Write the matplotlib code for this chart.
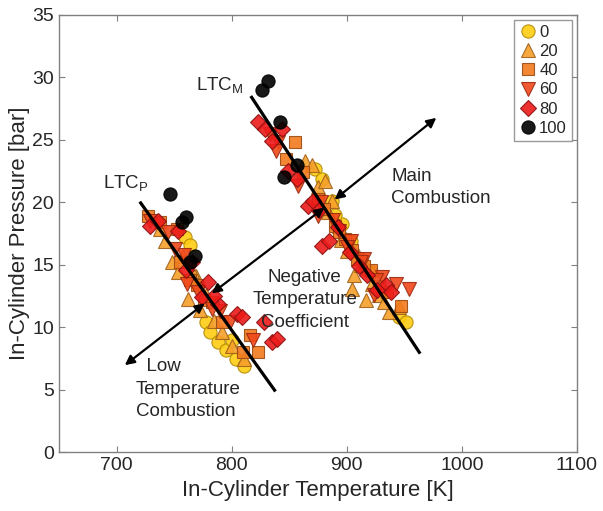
import matplotlib
matplotlib.use("Agg")
import matplotlib.pyplot as plt

plt.rcParams['font.family'] = ['Liberation Sans', 'DejaVu Sans']

series_labels = ["0", "20", "40", "60", "80", "100"]

# LTC_P branch + main branch points (T [K], P [bar])
T_0 = [759.3, 763.6, 770.6, 777.5, 781.0, 787.9, 794.8, 803.5, 810.4, 800.0,
       872.0, 878.1, 887.6, 896.3, 904.1, 912.8, 921.5, 932.8, 945.7, 951.7, 890.0, 918.0]
P_0 = [17.26, 16.6, 13.35, 10.4, 9.6, 8.8, 8.2, 7.5, 6.9, 8.97,
       22.7, 21.9, 20.1, 18.3, 16.9, 15.5, 14.4, 12.8, 10.8, 10.4, 19.0, 14.6]

T_20 = [737.6, 741.9, 748.0, 753.2, 761.9, 772.3, 784.4, 791.4, 800.0, 810.4, 768.8, 757.5, 766.0, 778.0,
        863.4, 869.4, 874.6, 880.7, 886.8, 893.7, 900.6, 906.7, 905.0, 917.1, 928.4, 937.1, 945.7, 912.8,
        884.0, 895.0, 910.0, 922.0, 932.0]
P_20 = [17.9, 16.9, 15.2, 14.4, 12.3, 11.35, 10.5, 9.6, 8.5, 7.5, 14.1, 15.7, 14.5, 12.6,
        23.3, 23.0, 21.2, 21.7, 20.1, 18.1, 16.1, 14.2, 13.1, 12.2, 12.6, 11.2, 11.6, 15.0,
        19.2, 17.0, 15.8, 13.5, 12.0]

T_40 = [727.2, 737.6, 752.3, 754.9, 763.6, 775.8, 791.4, 809.6, 822.6, 815.7, 770.0, 783.0,
        854.7, 846.9, 861.6, 874.6, 889.4, 898.9, 909.3, 921.5, 935.3, 947.5,
        880.0, 893.0, 905.0, 915.0, 928.0]
P_40 = [18.9, 18.4, 17.9, 15.2, 13.8, 12.2, 10.4, 8.0, 8.0, 9.4, 13.4, 12.0,
        24.8, 23.5, 22.4, 20.3, 18.1, 17.1, 15.5, 14.6, 12.8, 11.7,
        19.5, 17.6, 16.2, 14.9, 13.3]

T_60 = [728.9, 744.5, 758.4, 761.0, 770.6, 782.7, 798.3, 818.3, 750.6, 765.0, 790.0,
        833.0, 839.9, 838.2, 857.3, 874.6, 893.7, 904.1, 931.0, 943.1, 954.4, 924.1, 915.4,
        878.0, 888.0, 900.0, 912.0, 925.0]
P_60 = [18.5, 17.6, 15.8, 13.5, 12.8, 11.5, 10.4, 9.0, 16.3, 15.0, 11.3,
        25.5, 24.8, 24.1, 21.3, 18.9, 17.7, 16.9, 14.0, 13.5, 13.1, 12.6, 15.5,
        20.0, 18.6, 16.4, 15.2, 13.8]

T_80 = [728.9, 735.9, 753.2, 774.0, 779.2, 787.9, 804.4, 808.7, 827.8, 834.7, 839.1, 765.4, 760.0, 785.0,
        822.6, 828.7, 843.4, 834.7, 848.6, 856.4, 866.0, 870.3, 878.1, 885.0, 934.5, 938.8, 911.0,
        876.0, 892.0, 903.0, 918.0, 926.0]
P_80 = [18.1, 18.5, 17.7, 12.4, 13.6, 11.9, 11.1, 10.8, 10.4, 8.8, 9.1, 15.2, 14.6, 12.5,
        26.4, 25.9, 25.9, 24.9, 22.5, 21.9, 19.7, 20.1, 16.5, 16.9, 13.4, 12.8, 14.9,
        19.4, 18.0, 16.0, 14.2, 13.0]

T_100 = [826.1, 831.3, 841.7, 856.4, 845.1, 746.3, 760.1, 756.7, 768.0, 763.6]
P_100 = [29.0, 29.7, 26.4, 23.0, 22.0, 20.7, 18.86, 18.4, 15.7, 15.2]

# fit lines (endpoints)
ltcm_T = [817.4, 963.0]
ltcm_P = [28.4, 8.0]
ltcp_T = [721.0, 837.3]
ltcp_P = [19.95, 4.97]

# double arrows: (T1, P1, T2, P2)
arrow_ltc = (707.2, 6.97, 776.6, 11.92)
arrow_ntc = (782.7, 12.71, 880.7, 19.58)
arrow_main = (889.4, 20.22, 977.8, 26.76)

xticks = [700, 800, 900, 1000, 1100]
yticks = [0, 5, 10, 15, 20, 25, 30, 35]

fig = plt.figure(figsize=(6.03, 5.11), dpi=100)
ax = fig.add_axes([0.0978, 0.1149, 0.859, 0.856])

styles = [
    (T_0, P_0, 'o', '#FFCC14', '#B08A00', 9.5),
    (T_20, P_20, '^', '#F5A02A', '#A0601A', 10),
    (T_40, P_40, 's', '#F27A1E', '#9A4A10', 8.5),
    (T_60, P_60, 'v', '#F0481A', '#9A2A10', 10),
    (T_80, P_80, 'D', '#EC1A1A', '#8A1010', 8),
    (T_100, P_100, 'o', '#000000', '#000000', 9.5),
]
for (tt, pp, m, fc, ec, ms), lab in zip(styles, series_labels):
    ax.plot(tt, pp, linestyle='none', marker=m, markersize=ms,
            markerfacecolor=fc, markeredgecolor=ec, markeredgewidth=0.8,
            alpha=0.9, label=lab)

ax.plot(ltcm_T, ltcm_P, color='black', lw=2.3, zorder=5)
ax.plot(ltcp_T, ltcp_P, color='black', lw=2.3, zorder=5)

for (t1, p1, t2, p2) in (arrow_ltc, arrow_ntc, arrow_main):
    ax.annotate('', xy=(t2, p2), xytext=(t1, p1),
                arrowprops=dict(arrowstyle='<|-|>', color='black', lw=1.6,
                                mutation_scale=14, shrinkA=0, shrinkB=0),
                zorder=6)

tc = '#262626'
fs = 13.5
ax.text(769, 29.3, r'LTC$_\mathregular{M}$', fontsize=fs, color=tc, va='center', ha='left')
ax.text(688, 21.5, r'LTC$_\mathregular{P}$', fontsize=fs, color=tc, va='center', ha='left')
ax.text(938.5, 21.2, 'Main\nCombustion', fontsize=fs, color=tc, va='center', ha='left',
        linespacing=1.4)
ax.text(863.4, 12.2, 'Negative\nTemperature\nCoefficient', fontsize=fs, color=tc,
        va='center', ha='center', linespacing=1.4)
ax.text(717, 5.05, '  Low\nTemperature\nCombustion', fontsize=fs, color=tc,
        va='center', ha='left', linespacing=1.4)

ax.set_xlim(650, 1100)
ax.set_ylim(0, 35)
ax.set_xticks(xticks)
ax.set_yticks(yticks)
ax.tick_params(direction='in', top=True, right=True, labelsize=14, colors='#808080',
               labelcolor=tc, length=4)
for s in ax.spines.values():
    s.set_color('#808080')
    s.set_linewidth(1.0)
ax.set_xlabel('In-Cylinder Temperature [K]', fontsize=16, color=tc, labelpad=4)
ax.set_ylabel('In-Cylinder Pressure [bar]', fontsize=16, color=tc, labelpad=2)

leg = ax.legend(loc='upper right', fontsize=12, frameon=True, fancybox=False,
                handletextpad=0.2, handlelength=1.0, borderpad=0.3,
                labelspacing=0.25, borderaxespad=0.3, edgecolor='#808080')
leg.get_frame().set_linewidth(1.0)
for t in leg.get_texts():
    t.set_color(tc)

fig.savefig('out.png', dpi=100, facecolor='white')
